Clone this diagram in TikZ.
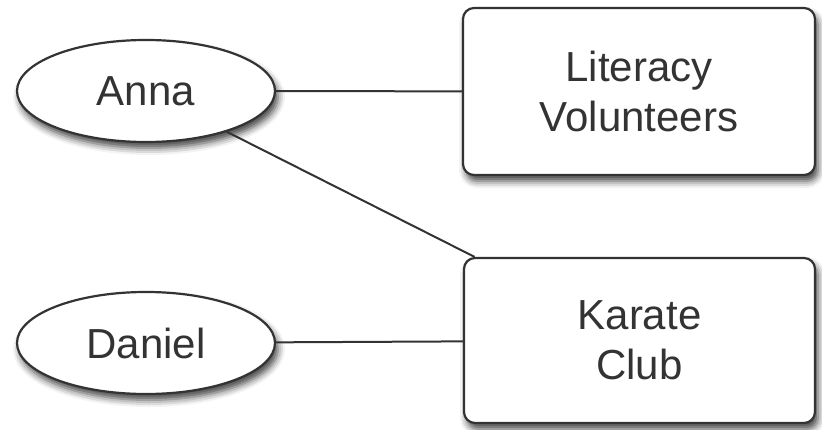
\documentclass[tikz,border=0pt]{standalone}
\usepackage{fontspec}
\setmainfont{Liberation Sans}
\usetikzlibrary{shapes.geometric,shadows.blur}
\definecolor{ink}{HTML}{333333}
\begin{document}
\begin{tikzpicture}[x=1pt,y=-1pt,
  every node/.style={font=\fontsize{42}{50}\selectfont, text=ink},
  shade/.style={blur shadow={shadow xshift=3pt, shadow yshift=-6pt, shadow blur radius=7pt, shadow opacity=75}},
  person/.style={ellipse, draw=ink, line width=2.2pt, fill=white, minimum width=258pt, minimum height=102pt, inner sep=0pt, shade},
  group/.style={rectangle, rounded corners=11pt, draw=ink, line width=2.2pt, fill=white, align=center, inner sep=0pt, shade},
  link/.style={draw=ink, line width=2pt}]
\useasboundingbox (0,0) rectangle (822,430);
\node[person] (anna) at (146,91) {Anna};
\node[person] (daniel) at (146,343) {Daniel};
\node[group, minimum width=352pt, minimum height=167pt] (lit) at (639,91.5) {Literacy\\Volunteers};
\node[group, minimum width=351pt, minimum height=165pt] (kar) at (639.5,340.5) {Karate\\Club};
\draw[link] (anna) -- (lit);
\draw[link] (anna) -- (kar);
\draw[link] (daniel) -- (kar);
\end{tikzpicture}
\end{document}
